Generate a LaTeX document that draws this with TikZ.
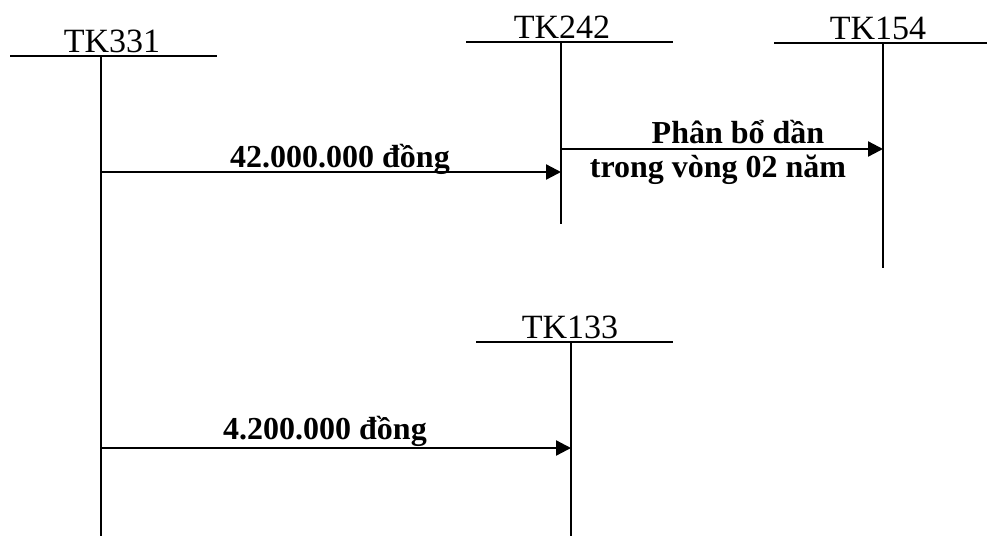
\documentclass[tikz,border=0pt]{standalone}
\usepackage{fontspec}
\setmainfont{Liberation Serif}
\usetikzlibrary{arrows.meta}
\begin{document}
\begin{tikzpicture}[x=1pt,y=-1pt,
  tline/.style={line width=1.8pt},
  flow/.style={line width=2.3pt,-{Triangle[length=15pt,width=15pt]}},
  acct/.style={anchor=base,inner sep=0pt,font=\fontsize{34}{40}\selectfont},
  amount/.style={anchor=base,inner sep=0pt,font=\fontsize{32}{38}\selectfont\bfseries}]
\useasboundingbox (0,0) rectangle (987,536);
% account T heads
\coordinate (h331l) at (10,56);  \coordinate (h331r) at (217,56);
\coordinate (v331t) at (101,56); \coordinate (v331b) at (101,536);
\coordinate (h242l) at (466,42); \coordinate (h242r) at (673,42);
\coordinate (v242t) at (561,42); \coordinate (v242b) at (561,224);
\coordinate (h154l) at (774,43); \coordinate (h154r) at (987,43);
\coordinate (v154t) at (883,43); \coordinate (v154b) at (883,268);
\coordinate (h133l) at (476,342); \coordinate (h133r) at (673,342);
\coordinate (v133t) at (571,342); \coordinate (v133b) at (571,536);
\draw[tline] (h331l) -- (h331r) (v331t) -- (v331b);
\draw[tline] (h242l) -- (h242r) (v242t) -- (v242b);
\draw[tline] (h154l) -- (h154r) (v154t) -- (v154b);
\draw[tline] (h133l) -- (h133r) (v133t) -- (v133b);
\node[acct] (l331) at (112,52) {TK331};
\node[acct] (l242) at (562,38) {TK242};
\node[acct] (l154) at (878,39) {TK154};
\node[acct] (l133) at (570,338) {TK133};
% flows
\coordinate (f1s) at (101,172); \coordinate (f1e) at (561,172);
\coordinate (f2s) at (561,149); \coordinate (f2e) at (883,149);
\coordinate (f3s) at (101,448); \coordinate (f3e) at (571,448);
\draw[flow] (f1s) -- (f1e);
\draw[flow] (f2s) -- (f2e);
\draw[flow] (f3s) -- (f3e);
\node[amount] (t1) at (340,167) {42.000.000 đồng};
\node[amount] (t2a) at (738,143) {Phân bổ dần};
\node[amount] (t2b) at (718,177) {trong vòng 02 năm};
\node[amount] (t3) at (325,439) {4.200.000 đồng};
\end{tikzpicture}
\end{document}
